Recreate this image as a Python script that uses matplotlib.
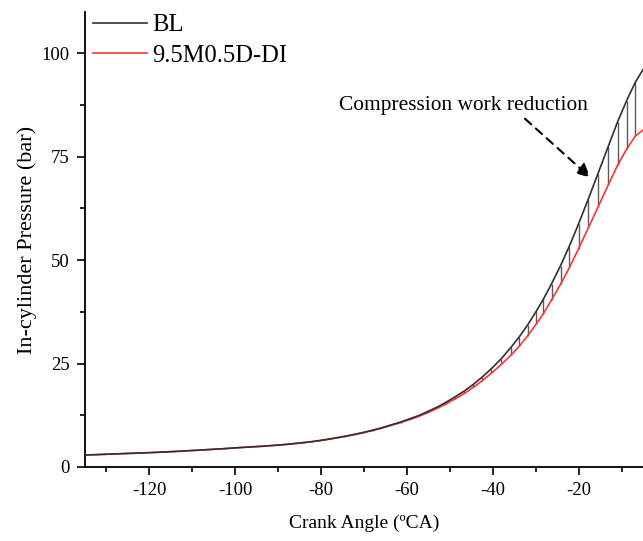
import numpy as np
import matplotlib.pyplot as plt
from matplotlib.ticker import MultipleLocator

plt.rcParams['font.family'] = ['Liberation Serif', 'DejaVu Serif']
plt.rcParams['axes.unicode_minus'] = False

# crank angle of the data points (deg CA)
ca = [-135.0, -132.0, -125.7, -120.4, -116.0, -112.3, -108.8, -105.6, -103.0, -100.3,
      -98.0, -95.6, -93.1, -90.6, -88.2, -85.9, -83.6, -81.3, -79.0, -76.8,
      -74.6, -72.4, -70.2, -68.0, -65.8, -63.6, -61.4, -59.2, -57.1, -55.0,
      -52.9, -50.8, -48.7, -46.6, -44.5, -42.4, -40.3, -38.0, -35.7, -33.8,
      -31.9, -29.9, -28.2, -26.3, -24.2, -22.2, -20.0, -17.7, -15.5, -13.1,
      -10.9, -8.8, -6.8, -4.7]

# in-cylinder pressure (bar)
p_bl = [2.9, 3.0, 3.25, 3.45, 3.65, 3.85, 4.05, 4.25, 4.4, 4.6,
        4.75, 4.9, 5.05, 5.25, 5.45, 5.7, 5.95, 6.25, 6.6, 7.0,
        7.4, 7.85, 8.35, 8.9, 9.5, 10.2, 10.9, 11.7, 12.5, 13.5,
        14.5, 15.7, 17.0, 18.4, 20.0, 21.8, 23.8, 26.2, 29.0, 31.5,
        34.3, 37.6, 40.6, 44.3, 48.7, 53.3, 58.8, 64.9, 70.9, 77.5,
        83.5, 88.6, 93.0, 96.6]

p_di = [2.9, 3.0, 3.25, 3.45, 3.65, 3.85, 4.05, 4.25, 4.4, 4.6,
        4.75, 4.9, 5.05, 5.25, 5.44, 5.69, 5.93, 6.22, 6.56, 6.95,
        7.34, 7.78, 8.27, 8.81, 9.39, 10.07, 10.75, 11.5, 12.3, 13.2,
        14.2, 15.3, 16.5, 17.8, 19.3, 20.9, 22.7, 24.8, 27.1, 29.2,
        31.7, 34.5, 37.1, 40.4, 44.2, 48.1, 52.8, 57.9, 62.8, 68.2,
        73.0, 76.9, 80.0, 81.7]

fig = plt.figure(figsize=(6.43, 5.41), dpi=100)
ax = fig.add_axes([0.1322, 0.1368, 0.8678, 0.841])

ax.vlines(ca, p_di, p_bl, color='#5a5a5a', lw=1.0, zorder=1)
ax.plot(ca, p_bl, color='#303030', lw=1.2, label='BL', zorder=3)
ax.plot(ca, p_di, color='#ff3333', lw=1.2, label='9.5M0.5D-DI', zorder=2)

ax.set_xlim(-135, -5)
ax.set_ylim(0, 110)
ax.xaxis.set_minor_locator(MultipleLocator(10))
ax.yaxis.set_major_locator(MultipleLocator(25))
ax.yaxis.set_minor_locator(MultipleLocator(12.5))
ax.set_xticks([-120, -100, -80, -60, -40, -20])
ax.tick_params(which='major', direction='out', length=6, width=1.2, labelsize=13.5, pad=5)
ax.tick_params(which='minor', direction='out', length=3.5, width=1.2)
ax.spines['top'].set_visible(False)
ax.spines['right'].set_visible(False)
ax.spines['left'].set_linewidth(1.3)
ax.spines['bottom'].set_linewidth(1.3)

ax.set_xlabel('Crank Angle (ºCA)', fontsize=14, labelpad=11)
ax.set_ylabel('In-cylinder Pressure (bar)', fontsize=16, labelpad=3)

ax.text(-46.8, 87.5, 'Compression work reduction', fontsize=15.4, ha='center', va='center')
ax.annotate('', xy=(-17.3, 70.0), xytext=(-32.5, 84.2),
            arrowprops=dict(arrowstyle='-|>', color='black', lw=1.5,
                            linestyle=(0, (4, 3)), mutation_scale=20,
                            shrinkA=0, shrinkB=0))

ax.legend(loc='upper left', bbox_to_anchor=(-0.012, 1.028), frameon=False, fontsize=17.7,
          handlelength=2.2, handletextpad=0.2, labelspacing=0.35, borderaxespad=0.2)

fig.savefig('out.png', dpi=100)
